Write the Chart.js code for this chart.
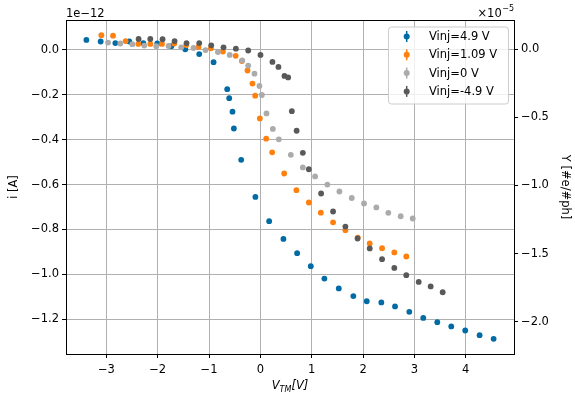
<!DOCTYPE html>
<html>
<head>
<meta charset="utf-8">
<script src="https://cdn.jsdelivr.net/npm/chart.js@4.4.1/dist/chart.umd.min.js"></script>
<style>
  html, body { margin: 0; padding: 0; background: #fff; }
  #wrap { width: 575px; height: 393px; }
</style>
</head>
<body>
<div id="wrap"><canvas id="chart"></canvas></div>
<script>
// V_TM [V] and i [A] (in units of 1e-12)
const VTM_P49 = [-3.389, -3.111, -2.825, -2.553, -2.280, -2.008, -1.735, -1.463, -1.191, -0.912,
  -0.646, -0.607, -0.543, -0.516, -0.374, -0.097, 0.171, 0.449, 0.716, 0.982,
  1.247, 1.527, 1.811, 2.072, 2.356, 2.623, 2.901, 3.173, 3.446, 3.718, 3.990, 4.270, 4.543];
const I_P49 = [0.043, 0.036, 0.029, 0.036, 0.029, 0.027, 0.015, 0.001, -0.020, -0.056,
  -0.176, -0.216, -0.276, -0.351, -0.490, -0.655, -0.763, -0.842, -0.905, -0.963,
  -1.018, -1.062, -1.096, -1.119, -1.124, -1.142, -1.166, -1.193, -1.212, -1.231, -1.249, -1.270, -1.286];

const VTM_P109 = [-3.097, -2.870, -2.625, -2.377, -2.144, -1.916, -1.677, -1.444, -1.204, -0.963,
  -0.730, -0.481, -0.360, -0.251, -0.154, -0.101, -0.010, 0.113, 0.230, 0.463,
  0.702, 0.944, 1.177, 1.416, 1.656, 1.897, 2.130, 2.370, 2.609, 2.842];
const I_P109 = [0.064, 0.062, 0.038, 0.025, 0.025, 0.025, 0.027, 0.020, 0.012, 0.006,
  -0.009, -0.028, -0.051, -0.093, -0.151, -0.205, -0.306, -0.396, -0.457, -0.551,
  -0.625, -0.680, -0.725, -0.768, -0.803, -0.836, -0.862, -0.883, -0.902, -0.920];

const VTM_0 = [-2.967, -2.728, -2.494, -2.261, -2.027, -1.788, -1.541, -1.302, -1.068, -0.827,
  -0.597, -0.354, -0.237, -0.115, -0.018, 0.029, 0.119, 0.243, 0.360, 0.593,
  0.827, 1.066, 1.305, 1.539, 1.780, 2.019, 2.259, 2.492, 2.733, 2.967];
const I_0 = [0.031, 0.027, 0.024, 0.018, 0.015, 0.016, 0.010, 0.007, -0.002, -0.011,
  -0.024, -0.048, -0.071, -0.107, -0.162, -0.202, -0.284, -0.353, -0.399, -0.468,
  -0.524, -0.564, -0.600, -0.631, -0.660, -0.684, -0.702, -0.726, -0.741, -0.751];

const VTM_M49 = [-2.372, -2.144, -1.905, -1.671, -1.438, -1.191, -0.957, -0.718, -0.477, -0.237,
  0.002, 0.235, 0.352, 0.469, 0.541, 0.613, 0.706, 0.827, 0.944, 1.183,
  1.416, 1.656, 1.893, 2.130, 2.370, 2.609, 2.842, 3.084, 3.317, 3.551];
const I_M49 = [0.047, 0.047, 0.046, 0.038, 0.029, 0.029, 0.019, 0.010, 0.004, -0.004,
  -0.024, -0.055, -0.077, -0.117, -0.124, -0.274, -0.361, -0.459, -0.532, -0.640,
  -0.720, -0.787, -0.840, -0.884, -0.932, -0.971, -1.003, -1.033, -1.053, -1.079];

const SERIES_LABELS = ['Vinj=4.9 V', 'Vinj=1.09 V', 'Vinj=0 V', 'Vinj=-4.9 V'];
const SERIES_COLORS = ['#006BA4', '#FF800E', '#ABABAB', '#595959'];

const X_TICKS = [-3, -2, -1, 0, 1, 2, 3, 4];
const Y_TICKS = [0, -0.2, -0.4, -0.6, -0.8, -1.0, -1.2];
const Y2_TICKS = [0, -0.5, -1.0, -1.5, -2.0];

const FONT = 'DejaVu Sans';
const fmt = (v, d) => (Math.abs(v) < 1e-9 ? 0 : v).toFixed(d).replace('-', '\u2212');

function points(xs, ys) {
  return xs.map((x, i) => ({ x: x, y: ys[i] }));
}

const extrasPlugin = {
  id: 'extras',
  afterDraw(chart) {
    const ctx = chart.ctx;
    const a = chart.chartArea;
    ctx.save();

    // top spine
    ctx.strokeStyle = '#000';
    ctx.lineWidth = 1;
    ctx.beginPath();
    ctx.moveTo(a.left, a.top + 0.5);
    ctx.lineTo(a.right, a.top + 0.5);
    ctx.stroke();

    // offset texts
    ctx.fillStyle = '#000';
    ctx.textBaseline = 'alphabetic';
    ctx.font = `11.5px "${FONT}"`;
    ctx.textAlign = 'left';
    ctx.fillText('1e\u221212', a.left, 16.5);

    ctx.font = `8px "${FONT}"`;
    const supW = ctx.measureText('\u22125').width;
    ctx.textAlign = 'right';
    ctx.fillText('\u22125', a.right, 11);
    ctx.font = `11.5px "${FONT}"`;
    ctx.fillText('\u00d710', a.right - supW - 0.5, 16.5);

    // x axis title: V_TM[V]
    const big = `italic 11.5px "${FONT}"`;
    const small = `italic 8px "${FONT}"`;
    ctx.font = big;
    const wV = ctx.measureText('V').width;
    const wB = ctx.measureText('[V]').width;
    ctx.font = small;
    const wT = ctx.measureText('TM').width;
    let x = (a.left + a.right) / 2 - (wV + wT + wB) / 2;
    const base = 389;
    ctx.textAlign = 'left';
    ctx.font = big;
    ctx.fillText('V', x, base);
    x += wV;
    ctx.font = small;
    ctx.fillText('TM', x, base + 2.5);
    x += wT;
    ctx.font = big;
    ctx.fillText('[V]', x, base);

    // legend
    const lx = 388, ly = 26.5, lw = 120, lh = 77;
    ctx.beginPath();
    if (ctx.roundRect) ctx.roundRect(lx + 0.5, ly + 0.5, lw, lh, 3);
    else ctx.rect(lx + 0.5, ly + 0.5, lw, lh);
    ctx.fillStyle = 'rgba(255,255,255,0.8)';
    ctx.fill();
    ctx.strokeStyle = '#cccccc';
    ctx.stroke();

    ctx.font = `11.5px "${FONT}"`;
    ctx.textBaseline = 'middle';
    SERIES_LABELS.forEach((label, i) => {
      const cy = 36.5 + i * 18.3;
      const c = SERIES_COLORS[i];
      ctx.strokeStyle = c;
      ctx.lineWidth = 1.5;
      ctx.beginPath();
      ctx.moveTo(406.7, cy - 5.5);
      ctx.lineTo(406.7, cy + 5.5);
      ctx.stroke();
      ctx.fillStyle = c;
      ctx.beginPath();
      ctx.arc(406.7, cy, 3, 0, Math.PI * 2);
      ctx.fill();
      ctx.fillStyle = '#000';
      ctx.fillText(label, 429, cy + 0.5);
    });
    ctx.restore();
  }
};

const tickFont = { family: FONT, size: 11.5 };

const ctx = document.getElementById('chart').getContext('2d');
new Chart(ctx, {
  type: 'scatter',
  plugins: [extrasPlugin],
  data: {
    datasets: [
      { label: SERIES_LABELS[0], data: points(VTM_P49, I_P49), order: 4 },
      { label: SERIES_LABELS[1], data: points(VTM_P109, I_P109), order: 3 },
      { label: SERIES_LABELS[2], data: points(VTM_0, I_0), order: 2 },
      { label: SERIES_LABELS[3], data: points(VTM_M49, I_M49), order: 1 }
    ].map((d, i) => Object.assign(d, {
      backgroundColor: SERIES_COLORS[i],
      borderWidth: 0,
      pointRadius: 2.9,
      pointHoverRadius: 2.9,
      yAxisID: 'y'
    }))
  },
  options: {
    responsive: true,
    maintainAspectRatio: false,
    animation: false,
    devicePixelRatio: 1,
    layout: { padding: { top: 20, left: 0, right: 0, bottom: 0 } },
    plugins: { legend: { display: false }, tooltip: { enabled: false } },
    scales: {
      x: {
        type: 'linear',
        position: 'bottom',
        min: -3.786,
        max: 4.940,
        afterBuildTicks: (s) => { s.ticks = X_TICKS.map(v => ({ value: v })); },
        afterFit: (s) => { s.height = 39; },
        ticks: { color: '#000', font: tickFont, padding: 5, maxRotation: 0, autoSkip: false,
          callback: (v) => fmt(v, 0) },
        grid: { color: '#b0b0b0', lineWidth: 1, tickColor: '#000', tickLength: 4 },
        border: { color: '#000', width: 1 }
      },
      y: {
        type: 'linear',
        position: 'left',
        min: -1.3535,
        max: 0.1315,
        afterBuildTicks: (s) => { s.ticks = Y_TICKS.map(v => ({ value: v })); },
        afterFit: (s) => { s.width = 66; },
        ticks: { color: '#000', font: tickFont, padding: 3, autoSkip: false,
          callback: (v) => fmt(v, 1) },
        grid: { color: '#b0b0b0', lineWidth: 1, tickColor: '#000', tickLength: 4 },
        border: { color: '#000', width: 1 },
        title: { display: true, text: 'i [A]', color: '#000', font: tickFont, padding: { top: 7, bottom: 0 } }
      },
      y2: {
        type: 'linear',
        position: 'right',
        min: -2.237,
        max: 0.215,
        afterBuildTicks: (s) => { s.ticks = Y2_TICKS.map(v => ({ value: v })); },
        afterFit: (s) => { s.width = 61; },
        ticks: { color: '#000', font: tickFont, padding: 3, autoSkip: false,
          callback: (v) => fmt(v, 1) },
        grid: { drawOnChartArea: false, tickColor: '#000', tickLength: 4 },
        border: { color: '#000', width: 1 },
        title: { display: true, text: 'Y [#e/#ph]', color: '#000', font: tickFont, padding: { top: 3, bottom: 0 } }
      }
    }
  }
});
</script>
</body>
</html>
